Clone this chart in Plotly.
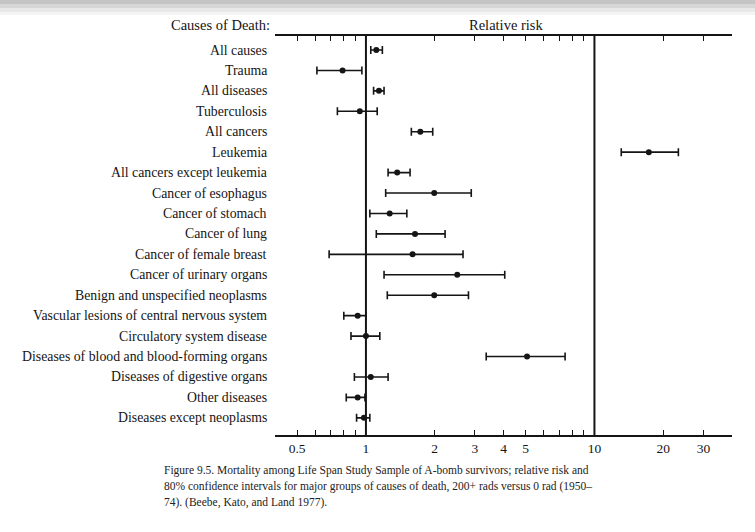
import plotly.graph_objects as go

causes = [
    "All causes", "Trauma", "All diseases", "Tuberculosis", "All cancers",
    "Leukemia", "All cancers except leukemia", "Cancer of esophagus",
    "Cancer of stomach", "Cancer of lung", "Cancer of female breast",
    "Cancer of urinary organs", "Benign and unspecified neoplasms",
    "Vascular lesions of central nervous system", "Circulatory system disease",
    "Diseases of blood and blood-forming organs", "Diseases of digestive organs",
    "Other diseases", "Diseases except neoplasms",
]
risk = [1.11, 0.79, 1.14, 0.94, 1.73, 17.3, 1.37, 1.99, 1.27, 1.64, 1.60,
        2.51, 1.99, 0.92, 1.00, 5.07, 1.05, 0.92, 0.98]
ci_low = [1.05, 0.61, 1.08, 0.75, 1.58, 13.1, 1.25, 1.22, 1.04, 1.11, 0.69,
          1.20, 1.24, 0.80, 0.86, 3.36, 0.89, 0.82, 0.91]
ci_high = [1.18, 0.96, 1.20, 1.12, 1.96, 23.3, 1.56, 2.89, 1.51, 2.22, 2.66,
           4.05, 2.81, 1.00, 1.15, 7.44, 1.25, 0.99, 1.04]

tick_vals = [0.5, 0.6, 0.7, 0.8, 0.9, 1, 2, 3, 4, 5, 6, 7, 8, 9, 10, 20, 30]
tick_text = ["0.5", "", "", "", "", "1", "2", "3", "4", "5", "", "", "", "", "10", "20", "30"]

caption = [
    "Figure 9.5. Mortality among Life Span Study Sample of A-bomb survivors; relative risk and",
    "80% confidence intervals for major groups of causes of death, 200+ rads versus 0 rad (1950–",
    "74). (Beebe, Kato, and Land 1977).",
]

SERIF = "Liberation Serif, Times New Roman, serif"
INK = "#151515"

W, H = 755, 532
L, R, T, B = 275, 23, 36, 97
pw, ph = W - L - R, H - T - B

def px_x(p):
    return (p - L) / pw

def px_y(p):
    return (H - B - p) / ph

idx = list(range(len(causes)))
fig = go.Figure()
fig.add_trace(go.Scatter(
    x=risk, y=idx, mode="markers",
    marker=dict(color=INK, size=6),
    error_x=dict(type="data", symmetric=False,
                 array=[h - r for h, r in zip(ci_high, risk)],
                 arrayminus=[r - l for r, l in zip(risk, ci_low)],
                 color=INK, thickness=1.6, width=4),
    showlegend=False, hoverinfo="x+y",
))

for xv in (1, 10):
    fig.add_shape(type="line", xref="x", yref="paper", x0=xv, x1=xv, y0=0, y1=1,
                  line=dict(color=INK, width=2))

# scan shading at the top edge
for y0, y1, col in [(0, 4, "#c4c4c4"), (4, 8, "#d6d6d6"), (8, 12, "#e8e8e8"), (12, 15, "#f4f4f4")]:
    fig.add_shape(type="rect", xref="paper", yref="paper",
                  x0=px_x(0), x1=px_x(W), y0=px_y(y1), y1=px_y(y0),
                  fillcolor=col, line=dict(width=0), layer="below")

annotations = []
for i, c in enumerate(causes):
    annotations.append(dict(text=c, xref="paper", yref="y", x=px_x(269), y=i,
                            xanchor="right", yanchor="middle", showarrow=False,
                            font=dict(family=SERIF, size=13.8, color=INK)))
annotations.append(dict(text="Causes of Death:", xref="paper", yref="paper",
                        x=px_x(220), y=px_y(25), xanchor="center", yanchor="middle",
                        showarrow=False, font=dict(family=SERIF, size=14.5, color=INK)))
annotations.append(dict(text="Relative risk", xref="paper", yref="paper",
                        x=px_x(506), y=px_y(25), xanchor="center", yanchor="middle",
                        showarrow=False, font=dict(family=SERIF, size=14.5, color=INK)))
for k, line in enumerate(caption):
    annotations.append(dict(text=line, xref="paper", yref="paper",
                            x=px_x(162), y=px_y(470 + 16 * k), xanchor="left",
                            yanchor="middle", showarrow=False,
                            font=dict(family=SERIF, size=11.5, color="#222222")))

fig.update_layout(
    width=W, height=H,
    margin=dict(l=L, r=R, t=T, b=B, pad=0),
    paper_bgcolor="white", plot_bgcolor="white",
    annotations=annotations,
    xaxis=dict(type="log", range=[-0.398, 1.602], tickvals=tick_vals, ticktext=tick_text,
               ticks="inside", ticklen=5, tickwidth=1, tickcolor=INK,
               showline=True, linecolor=INK, linewidth=1.5, mirror="ticks",
               showgrid=False, zeroline=False,
               tickfont=dict(family=SERIF, size=13.5, color=INK)),
    yaxis=dict(range=[18.84, -0.685], showticklabels=False, showgrid=False,
               zeroline=False, showline=False, ticks=""),
)

fig.write_html("out.html", config={"displayModeBar": False},
               post_script="document.body.style.margin='0';")
